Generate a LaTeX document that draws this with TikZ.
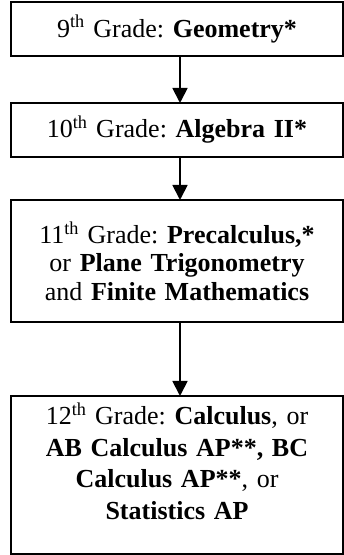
\documentclass[tikz,border=0pt]{standalone}
\usepackage{fontspec}
\setmainfont{Liberation Serif}
\frenchspacing
\usetikzlibrary{positioning, arrows.meta}

\begin{document}
\begin{tikzpicture}[
    x=1pt, y=1pt,
    grade/.style = {rectangle, draw, line width=1.5pt, outer sep=0pt, align=center, inner sep=2pt,
        minimum width=332pt, text width=328pt, font=\fontsize{26}{28.5}\selectfont},
    arrow/.style = {-{Triangle[length=15pt, width=15pt]}, line width=1.8pt}
]
    \useasboundingbox (0,0) rectangle (344,555);

    \node[grade, minimum height=54pt, anchor=north] (G9) at (177,553)
        {9\textsuperscript{th} Grade: \textbf{Geometry*}};
    \node[grade, minimum height=54pt, below=47pt of G9] (G10)
        {10\textsuperscript{th} Grade: \textbf{Algebra II*}};
    \node[grade, minimum height=122pt, below=43pt of G10] (G11)
        {11\textsuperscript{th} Grade: \textbf{Precalculus,*}\\
         or \textbf{Plane Trigonometry}\\
         and \textbf{Finite Mathematics}};
    \node[grade, minimum height=158pt, below=74pt of G11, text depth=122pt,
          font=\fontsize{26}{31.5}\selectfont] (G12)
        {12\textsuperscript{th} Grade: \textbf{Calculus}, or\\
         \textbf{AB Calculus AP**, BC}\\
         \textbf{Calculus AP**}, or\\
         \textbf{Statistics AP}};

    \draw[arrow] ([xshift=3pt]G9.south) -- ([xshift=3pt]G10.north);
    \draw[arrow] ([xshift=3pt]G10.south) -- ([xshift=3pt]G11.north);
    \draw[arrow] ([xshift=3pt]G11.south) -- ([xshift=3pt]G12.north);
\end{tikzpicture}
\end{document}
